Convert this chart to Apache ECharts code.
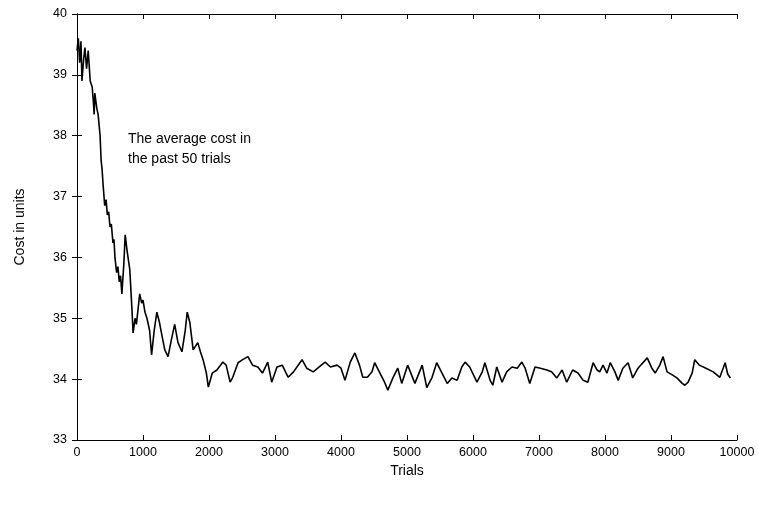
<!DOCTYPE html>
<html>
<head>
<meta charset="utf-8">
<script src="https://cdn.jsdelivr.net/npm/echarts@6/dist/echarts.min.js"></script>
<style>
  html, body { margin: 0; padding: 0; background: #fff; }
  #chart { width: 758px; height: 508px; }
</style>
</head>
<body>
<div id="chart"></div>
<script>
// trial numbers and the averaged cost
const trials = [
  0, 20, 40, 60, 75, 100, 120, 145, 170, 200, 230, 245, 260, 270, 300, 320, 350, 365, 380, 395,
  420, 440, 460, 480, 500, 520, 545, 560, 575, 600, 620, 640, 660, 680, 710, 730, 760, 800, 830, 850,
  880, 900, 950, 980, 1000, 1030, 1060, 1100, 1130, 1170, 1210, 1250, 1290, 1330, 1380, 1430, 1480, 1530, 1590, 1640,
  1670, 1710, 1760, 1830, 1870, 1910, 1960, 1990, 2050, 2120, 2210, 2260, 2320, 2360, 2440, 2510, 2590, 2660, 2740, 2810,
  2890, 2950, 3030, 3110, 3200, 3280, 3410, 3480, 3580, 3670, 3760, 3840, 3940, 4000, 4060, 4140, 4210, 4280, 4330, 4400,
  4470, 4510, 4590, 4660, 4710, 4790, 4860, 4920, 5010, 5120, 5230, 5300, 5380, 5450, 5530, 5610, 5680, 5760, 5830, 5880,
  5950, 6060, 6140, 6180, 6260, 6300, 6360, 6440, 6510, 6590, 6670, 6740, 6790, 6860, 6940, 7020, 7120, 7190, 7270, 7350,
  7420, 7510, 7590, 7670, 7740, 7820, 7880, 7920, 7970, 8030, 8080, 8150, 8200, 8270, 8350, 8420, 8500, 8640, 8710, 8760,
  8830, 8880, 8940, 9020, 9090, 9170, 9210, 9260, 9320, 9360, 9430, 9530, 9640, 9740, 9820, 9860, 9900
];
const cost = [
  39.4, 39.6, 39.2, 39.55, 38.9, 39.25, 39.45, 39.1, 39.4, 38.9, 38.8, 38.6, 38.35, 38.7, 38.45, 38.35, 38.0, 37.6, 37.45, 37.2,
  36.85, 36.95, 36.7, 36.75, 36.5, 36.55, 36.24, 36.3, 36.0, 35.75, 35.85, 35.6, 35.7, 35.4, 35.9, 36.37, 36.1, 35.8, 35.2, 34.76,
  35.0, 34.9, 35.4, 35.25, 35.3, 35.1, 35.0, 34.8, 34.4, 34.8, 35.1, 34.93, 34.7, 34.48, 34.37, 34.65, 34.9, 34.6, 34.45, 34.8,
  35.1, 34.93, 34.48, 34.6, 34.45, 34.32, 34.1, 33.87, 34.1, 34.15, 34.28, 34.23, 33.95, 34.03, 34.27, 34.32, 34.37, 34.23, 34.2, 34.1,
  34.28, 33.95, 34.2, 34.23, 34.03, 34.12, 34.32, 34.18, 34.12, 34.2, 34.28, 34.2, 34.23, 34.18, 33.98, 34.28, 34.43, 34.23, 34.03, 34.03,
  34.12, 34.27, 34.1, 33.95, 33.82, 34.03, 34.18, 33.93, 34.23, 33.93, 34.23, 33.86, 34.03, 34.27, 34.1, 33.93, 34.02, 33.98, 34.2, 34.28,
  34.2, 33.95, 34.12, 34.27, 33.98, 33.9, 34.2, 33.95, 34.12, 34.2, 34.18, 34.28, 34.18, 33.93, 34.2, 34.18, 34.15, 34.12, 34.02, 34.15,
  33.95, 34.15, 34.1, 33.98, 33.95, 34.27, 34.15, 34.12, 34.23, 34.1, 34.27, 34.12, 33.98, 34.18, 34.27, 34.02, 34.18, 34.35, 34.18, 34.1,
  34.23, 34.37, 34.12, 34.07, 34.02, 33.93, 33.9, 33.95, 34.1, 34.32, 34.23, 34.18, 34.12, 34.03, 34.27, 34.08, 34.02
];
const xTicks = [0, 1000, 2000, 3000, 4000, 5000, 6000, 7000, 8000, 9000, 10000];
const yTicks = [33, 34, 35, 36, 37, 38, 39, 40];
const noteLines = ['The average cost in', 'the past 50 trials'];

const font = 'Liberation Sans, Arial, sans-serif';
const axisLine = { show: true, lineStyle: { color: '#000', width: 1 } };
const tickIn = { show: true, inside: true, length: 5, lineStyle: { color: '#000' } };

let myChart = echarts.init(document.getElementById('chart'));
const option = {
  backgroundColor: '#fff',
  animation: false,
  grid: { left: 77, right: 21, top: 14, bottom: 68 },
  graphic: [
    {
      type: 'text',
      left: 128,
      top: 129,
      style: {
        text: noteLines.join('\n'),
        font: '14px ' + font,
        fill: '#000',
        lineHeight: 20
      }
    }
  ],
  xAxis: [
    {
      type: 'value',
      min: xTicks[0],
      max: xTicks[xTicks.length - 1],
      interval: 1000,
      name: 'Trials',
      nameLocation: 'middle',
      nameGap: 20,
      nameTextStyle: { color: '#000', fontSize: 14, fontFamily: font },
      axisLine: axisLine,
      axisTick: tickIn,
      axisLabel: { color: '#000', fontSize: 12.5, fontFamily: font, margin: 6, formatter: v => String(v) },
      splitLine: { show: false }
    },
    {
      type: 'value',
      position: 'top',
      min: xTicks[0],
      max: xTicks[xTicks.length - 1],
      interval: 1000,
      axisLine: axisLine,
      axisTick: tickIn,
      axisLabel: { show: false },
      splitLine: { show: false }
    }
  ],
  yAxis: [
    {
      type: 'value',
      min: yTicks[0],
      max: yTicks[yTicks.length - 1],
      interval: 1,
      name: 'Cost in units',
      nameLocation: 'middle',
      nameGap: 50,
      nameTextStyle: { color: '#000', fontSize: 14, fontFamily: font },
      axisLine: axisLine,
      axisTick: tickIn,
      axisLabel: { color: '#000', fontSize: 12.5, fontFamily: font, margin: 10 },
      splitLine: { show: false }
    },
    {
      type: 'value',
      position: 'right',
      min: yTicks[0],
      max: yTicks[yTicks.length - 1],
      interval: 1,
      axisLine: axisLine,
      axisTick: tickIn,
      axisLabel: { show: false },
      splitLine: { show: false }
    }
  ],
  series: [
    {
      type: 'line',
      data: trials.map((t, i) => [t, cost[i]]),
      showSymbol: false,
      lineStyle: { color: '#000', width: 1.6 },
      silent: true
    }
  ]
};
myChart.setOption(option);
</script>
</body>
</html>
